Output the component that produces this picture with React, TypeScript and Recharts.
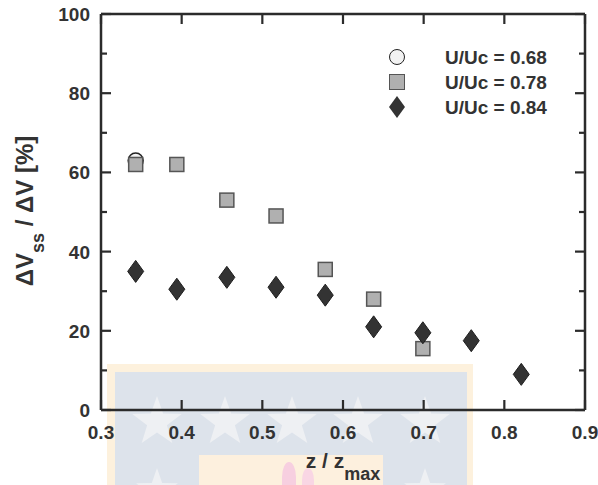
import React from 'react';
import { ScatterChart, Scatter, XAxis, YAxis, ReferenceLine } from 'recharts';

// axis ticks
const xTicks = [0.3, 0.4, 0.5, 0.6, 0.7, 0.8, 0.9];
const yTicks = [0, 10, 20, 30, 40, 50, 60, 70, 80, 90, 100];

// U/Uc = 0.68
const zCircle = [0.343];
const dvCircle = [63];

// U/Uc = 0.78
const zSquare = [0.343, 0.394, 0.456, 0.517, 0.578, 0.638, 0.699];
const dvSquare = [62, 62, 53, 49, 35.5, 28, 15.5];

// U/Uc = 0.84
const zDiamond = [0.343, 0.394, 0.456, 0.517, 0.578, 0.638, 0.699, 0.759, 0.821];
const dvDiamond = [35, 30.5, 33.5, 31, 29, 21, 19.5, 17.5, 9];

const seriesNames = ['U/Uc = 0.68', 'U/Uc = 0.78', 'U/Uc = 0.84'];

const toPoints = (xs: number[], ys: number[]) => xs.map((z, i) => ({ z, dv: ys[i] }));

const W = 598;
const H = 485;
const M = { top: 14, right: 13, bottom: 0, left: 0 };
const Y_W = 101;
const X_H = 75;
const PW = W - M.right - Y_W; // plot width
const PH = H - M.top - X_H; // plot height

const FONT = 'Arial, "Liberation Sans", Helvetica, sans-serif';
const AX = '#2b2b2b';
const TXT = '#333333';
const TW = 2.2; // tick thickness

const CircleMark = ({ cx, cy }: any) => (
  <circle cx={cx} cy={cy} r={7.5} fill="#f2f2f2" stroke="#222" strokeWidth={1.5} />
);
const SquareMark = ({ cx, cy }: any) => (
  <rect x={cx - 7} y={cy - 7} width={14} height={14} fill="#b0b0b0" stroke="#555" strokeWidth={1.5} />
);
const DiamondMark = ({ cx, cy }: any) => (
  <polygon
    points={`${cx},${cy - 11} ${cx + 8},${cy} ${cx},${cy + 11} ${cx - 8},${cy}`}
    fill="#333"
    stroke="#1e1e1e"
    strokeWidth={1}
  />
);

// inward ticks on bottom + top (filled bars), label under the bottom axis
const BottomTick = ({ x, y, payload }: any) => (
  <g>
    <rect x={x - TW / 2} y={y - 10} width={TW} height={10} style={{ fill: AX }} />
    <rect x={x - TW / 2} y={y - PH} width={TW} height={10} style={{ fill: AX }} />
    <text x={x} y={y + 29} textAnchor="middle" fill={TXT} fontSize={19} fontWeight="bold" fontFamily={FONT}>
      {Number(payload.value).toFixed(1)}
    </text>
  </g>
);

// inward ticks on left + right (minor every 10), labels every 20
const LeftTick = ({ x, y, payload }: any) => {
  const major = payload.value % 20 === 0;
  const len = major ? 10 : 6;
  return (
    <g>
      <rect x={x} y={y - TW / 2} width={len} height={TW} style={{ fill: AX }} />
      <rect x={x + PW - len} y={y - TW / 2} width={len} height={TW} style={{ fill: AX }} />
      {major && (
        <text x={x - 11} y={y + 7} textAnchor="end" fill={TXT} fontSize={19} fontWeight="bold" fontFamily={FONT}>
          {payload.value}
        </text>
      )}
    </g>
  );
};

const box = (l: number, t: number, w: number, h: number, extra: any = {}) => ({
  position: 'absolute' as const,
  left: l,
  top: t,
  width: w,
  height: h,
  boxSizing: 'border-box' as const,
  ...extra,
});

const starClip = () => {
  const pts: string[] = [];
  for (let i = 0; i < 10; i++) {
    const a = -Math.PI / 2 + (i * Math.PI) / 5;
    const rr = i % 2 === 0 ? 50 : 20;
    pts.push(`${50 + rr * Math.cos(a)}% ${50 + rr * Math.sin(a)}%`);
  }
  return `polygon(${pts.join(', ')})`;
};

// faint scanned logo behind the plot
const Watermark = () => (
  <>
    <div style={box(107, 364, 366, 121, { background: '#fdf1dd' })} />
    <div style={box(115, 372, 352, 113, { background: '#dde3eb' })} />
    {[157, 225, 292, 358, 425].map((sx) => (
      <div key={sx} style={box(sx - 26, 396, 52, 52, { background: '#eef0f3', clipPath: starClip() })} />
    ))}
    {[157, 425].map((sx) => (
      <div key={'b' + sx} style={box(sx - 22, 468, 44, 17, { overflow: 'hidden' })}>
        <div style={box(0, 0, 44, 44, { background: '#eef0f3', clipPath: starClip() })} />
      </div>
    ))}
    <div style={box(199, 455, 184, 30, { background: '#fdf0de' })} />
    <div style={box(282, 462, 14, 30, { background: '#f7cfe0', borderRadius: '50% 50% 0 0' })} />
    <div style={box(302, 468, 12, 24, { background: '#f9d6e4', borderRadius: '50% 50% 0 0' })} />
  </>
);

// legend + axis titles as plain html
const Overlay = () => {
  const rows = [57, 82, 107];
  const mx = 397;
  const txt = { fontFamily: FONT, fontWeight: 'bold' as const, color: TXT, whiteSpace: 'nowrap' as const };
  return (
    <>
      <div style={box(mx - 8.25, rows[0] - 8.25, 16.5, 16.5, { background: '#f2f2f2', border: '1.5px solid #222', borderRadius: '50%' })} />
      <div style={box(mx - 7.75, rows[1] - 7.75, 15.5, 15.5, { background: '#b0b0b0', border: '1.5px solid #555' })} />
      <div style={box(mx - 8, rows[2] - 11, 16, 22, { background: '#333', clipPath: 'polygon(50% 0, 100% 50%, 50% 100%, 0 50%)' })} />
      {seriesNames.map((n, i) => (
        <div key={n} style={box(445, rows[i] - 9, 140, 19, { ...txt, fontSize: 19, lineHeight: '19px' })}>
          {n}
        </div>
      ))}
      <div
        style={box(25 - 110, 211 - 12, 220, 24, {
          ...txt,
          fontSize: 24,
          lineHeight: '24px',
          textAlign: 'center',
          transform: 'rotate(-90deg)',
        })}
      >
        ΔV<span style={{ fontSize: 18, position: 'relative', top: 11 }}>ss</span> / ΔV [%]
      </div>
      <div style={box(Y_W + PW / 2 - 100, 450, 200, 21, { ...txt, fontSize: 21, lineHeight: '21px', textAlign: 'center' })}>
        z / z<span style={{ fontSize: 18, position: 'relative', top: 12 }}>max</span>
      </div>
    </>
  );
};

export default function App() {
  return (
    <div style={{ position: 'absolute', left: 0, top: 0, width: W, height: H, background: '#fff' }}>
      <Watermark />
      <div style={{ position: 'relative' }}>
        <ScatterChart width={W} height={H} margin={M}>
          <XAxis
            dataKey="z"
            type="number"
            domain={[0.3, 0.9]}
            ticks={xTicks}
            interval={0}
            tick={<BottomTick />}
            tickLine={false}
            tickSize={0}
            tickMargin={0}
            height={X_H}
            axisLine={{ stroke: AX, strokeWidth: 2.5 }}
          />
          <YAxis
            dataKey="dv"
            type="number"
            domain={[0, 100]}
            ticks={yTicks}
            interval={0}
            tick={<LeftTick />}
            tickLine={false}
            tickSize={0}
            tickMargin={0}
            width={Y_W}
            axisLine={{ stroke: AX, strokeWidth: 2.5 }}
          />
          <ReferenceLine y={100} stroke={AX} strokeWidth={2.5} />
          <ReferenceLine x={0.9} stroke={AX} strokeWidth={2.5} />
          <Scatter name={seriesNames[0]} data={toPoints(zCircle, dvCircle)} shape={<CircleMark />} isAnimationActive={false} />
          <Scatter name={seriesNames[1]} data={toPoints(zSquare, dvSquare)} shape={<SquareMark />} isAnimationActive={false} />
          <Scatter name={seriesNames[2]} data={toPoints(zDiamond, dvDiamond)} shape={<DiamondMark />} isAnimationActive={false} />
        </ScatterChart>
      </div>
      <Overlay />
    </div>
  );
}
